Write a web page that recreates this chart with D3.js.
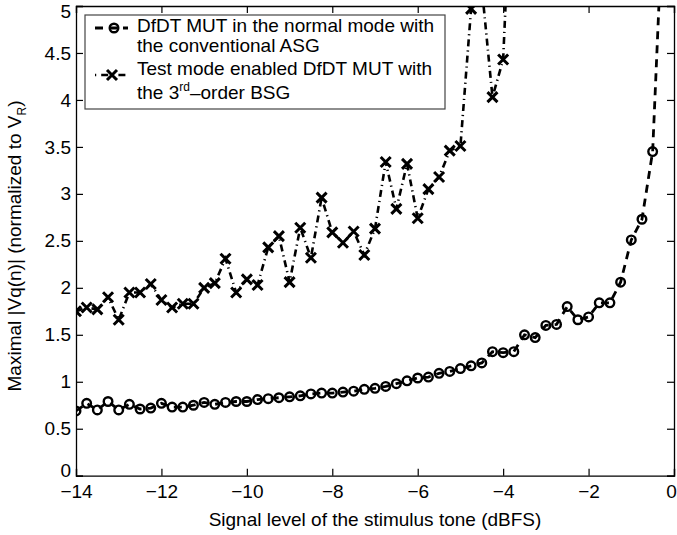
<!DOCTYPE html>
<html><head><meta charset="utf-8">
<script src="https://cdn.jsdelivr.net/npm/d3@7"></script>
<style>
html,body{margin:0;padding:0;background:#fff;}
svg{display:block;}
text{font-family:"Liberation Sans",Arial,Helvetica,sans-serif;fill:#000;}
</style></head><body>
<svg id="chart" width="677" height="535"></svg>
<script>
// ---- data ----
const xStart = -14, xStep = 0.25;
const normalMode = [0.69,0.77,0.70,0.79,0.70,0.76,0.71,0.72,0.77,0.73,0.73,0.75,0.78,0.76,0.78,0.79,0.79,0.81,0.82,0.83,
  0.84,0.85,0.87,0.88,0.88,0.89,0.90,0.92,0.93,0.95,0.98,1.01,1.04,1.05,1.09,1.11,1.14,1.17,1.20,1.32,
  1.31,1.32,1.50,1.47,1.60,1.61,1.80,1.66,1.69,1.84,1.84,2.06,2.51,2.73,3.45,6.1];
const testMode = [1.75,1.79,1.77,1.90,1.66,1.95,1.95,2.04,1.87,1.79,1.83,1.83,2.00,2.05,2.31,1.95,2.09,2.03,2.43,2.55,
  2.06,2.64,2.32,2.96,2.59,2.48,2.60,2.35,2.63,3.34,2.84,3.32,2.74,3.05,3.18,3.46,3.51,4.97,5.2,4.03,4.43,7.0];
const xTicks = [-14,-12,-10,-8,-6,-4,-2,0];
const yTicks = [0,0.5,1,1.5,2,2.5,3,3.5,4,4.5,5];
const legendNormal = ["DfDT MUT in the normal mode with","the conventional ASG"];
const legendTest = ["Test mode enabled DfDT MUT with","the 3", "rd", "\u2013order BSG"];
const xTitle = "Signal level of the stimulus tone (dBFS)";

// ---- layout ----
const L = 76, R = 674, T = 6, B = 475.7;
const svg = d3.select("#chart");
const x = d3.scaleLinear().domain([-14,0]).range([L,R]);
const y = d3.scaleLinear().domain([0,5]).range([B,T]);
const fs = 19;
const fmt = d => (d<0 ? "\u2212"+Math.abs(d) : String(d));

svg.append("defs").append("clipPath").attr("id","clip")
  .append("rect").attr("x",L).attr("y",T).attr("width",R-L).attr("height",B-T);

// axes (ticks inside, box)
const tl = 7;
const gB = svg.append("g").attr("transform",`translate(0,${B})`)
  .call(d3.axisBottom(x).tickValues(xTicks).tickSize(-tl).tickPadding(9).tickFormat(fmt));
const gT = svg.append("g").attr("transform",`translate(0,${T})`)
  .call(d3.axisTop(x).tickValues(xTicks).tickSize(-tl).tickFormat(""));
const gL = svg.append("g").attr("transform",`translate(${L},0)`)
  .call(d3.axisLeft(y).tickValues(yTicks).tickSize(-tl).tickPadding(5).tickFormat(d=>d));
const gR = svg.append("g").attr("transform",`translate(${R},0)`)
  .call(d3.axisRight(y).tickValues(yTicks).tickSize(-tl).tickFormat(""));
[gB,gT,gL,gR].forEach(g=>{
  g.selectAll("path.domain").attr("stroke","#000").attr("stroke-width",1.3);
  g.selectAll(".tick line").attr("stroke","#000").attr("stroke-width",1.2);
  g.selectAll(".tick text").attr("font-size",fs).attr("font-family","Liberation Sans, Arial, sans-serif").attr("fill","#000");
});
gB.selectAll(".tick text").attr("dy","0.71em");
// keep edge labels inside the picture
gL.selectAll(".tick").filter(d=>d===5).select("text").attr("dy","0.62em");
gL.selectAll(".tick").filter(d=>d===0).select("text").attr("dy","0.05em");
gB.selectAll(".tick").filter(d=>d===0).select("text").attr("dx","-3");

const pts1 = normalMode.map((v,i)=>[xStart+i*xStep,v]);
const pts2 = testMode.map((v,i)=>[xStart+i*xStep,v]);
const line = d3.line().x(d=>x(d[0])).y(d=>y(d[1]));
const plot = svg.append("g").attr("clip-path","url(#clip)");

// test mode: dash-dot with x markers
plot.append("path").datum(pts2).attr("d",line).attr("fill","none").attr("stroke","#000")
  .attr("stroke-width",2.6).attr("stroke-dasharray","7,4,1.2,4");
// normal mode: dashed with circles
plot.append("path").datum(pts1).attr("d",line).attr("fill","none").attr("stroke","#000")
  .attr("stroke-width",2.8).attr("stroke-dasharray","8,6");

const xs = 5;
function drawX(g,cx,cy){
  g.append("path").attr("d",`M${cx-xs},${cy-xs}L${cx+xs},${cy+xs}M${cx-xs},${cy+xs}L${cx+xs},${cy-xs}`)
   .attr("stroke","#000").attr("stroke-width",3).attr("fill","none");
}
function drawO(g,cx,cy){
  g.append("circle").attr("cx",cx).attr("cy",cy).attr("r",4.3).attr("fill","none")
   .attr("stroke","#000").attr("stroke-width",2.4);
}
pts2.forEach(d=>drawX(plot,x(d[0]),y(d[1])));
pts1.forEach(d=>drawO(plot,x(d[0]),y(d[1])));

// legend
const lg = svg.append("g");
lg.append("rect").attr("x",85).attr("y",15).attr("width",360).attr("height",94)
  .attr("fill","#fff").attr("stroke","#444").attr("stroke-width",1.2);
const sx0 = 95, sx1 = 128, smid = 112;
lg.append("line").attr("x1",sx0).attr("x2",sx1).attr("y1",28).attr("y2",28)
  .attr("stroke","#000").attr("stroke-width",2.8).attr("stroke-dasharray","8,6");
drawO(lg,smid+2,28);
lg.append("line").attr("x1",sx0).attr("x2",sx1).attr("y1",75).attr("y2",75)
  .attr("stroke","#000").attr("stroke-width",2.6).attr("stroke-dasharray","1.2,5,7,4");
drawX(lg,smid,75);
const tx = 137;
lg.append("text").attr("x",tx).attr("y",32).attr("font-size",fs).text(legendNormal[0]);
lg.append("text").attr("x",tx).attr("y",52).attr("font-size",fs).text(legendNormal[1]);
lg.append("text").attr("x",tx).attr("y",75).attr("font-size",fs).text(legendTest[0]);
const t4 = lg.append("text").attr("x",tx).attr("y",99).attr("font-size",fs);
t4.append("tspan").text(legendTest[1]);
t4.append("tspan").attr("font-size",12).attr("dy",-8).text(legendTest[2]);
t4.append("tspan").attr("dy",8).text(legendTest[3]);

// axis titles
svg.append("text").attr("x",(L+R)/2).attr("y",526).attr("text-anchor","middle")
  .attr("font-size",fs).text(xTitle);
const yt = svg.append("text").attr("transform",`translate(21,246) rotate(-90)`)
  .attr("text-anchor","middle").attr("font-size",fs);
yt.append("tspan").text("Maximal |Vq(n)| (normalized to V");
yt.append("tspan").attr("font-size",12).attr("dy",5).text("R");
yt.append("tspan").attr("dy",-5).text(")");
</script>
</body></html>
